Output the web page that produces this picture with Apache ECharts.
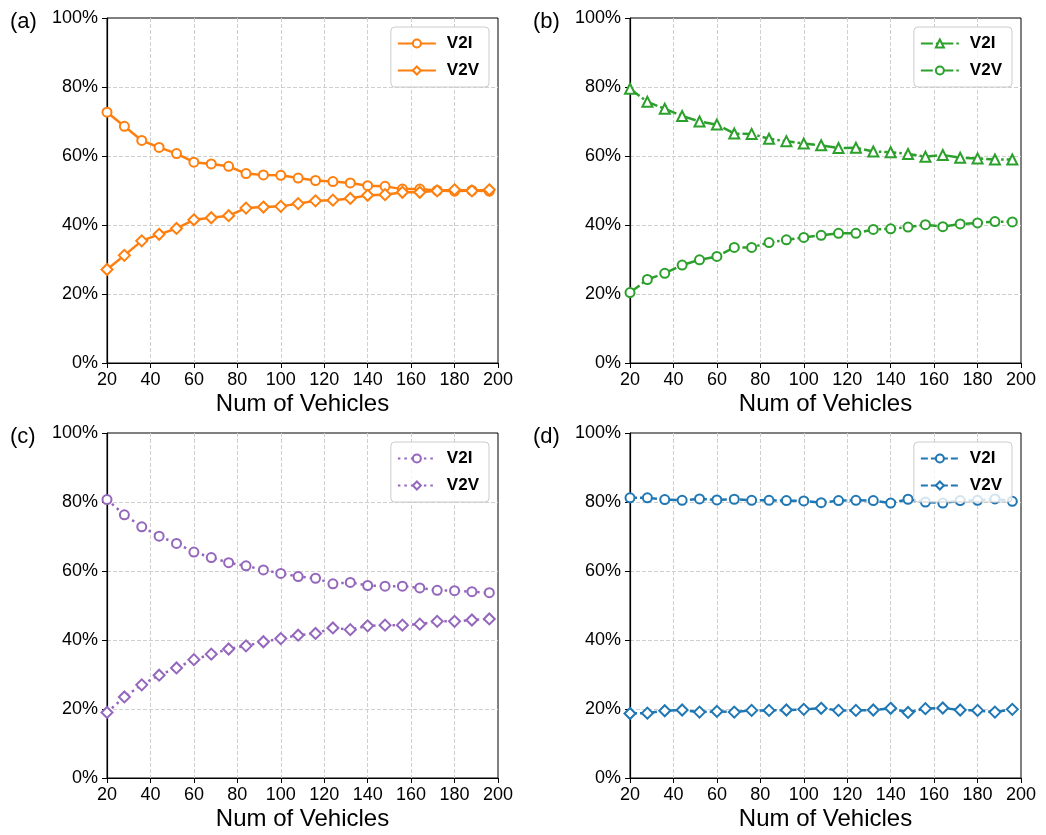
<!DOCTYPE html>
<html>
<head>
<meta charset="utf-8">
<script src="https://cdn.jsdelivr.net/npm/echarts@6/dist/echarts.min.js"></script>
<style>
  html, body { margin: 0; padding: 0; background: #fff; }
  #chart { width: 1046px; height: 835px; }
</style>
</head>
<body>
<div id="chart"></div>
<script>
const vehicles = [20, 28, 36, 44, 52, 60, 68, 76, 84, 92, 100, 108, 116, 124, 132, 140, 148, 156, 164, 172, 180, 188, 196];
const xTicks = [20, 40, 60, 80, 100, 120, 140, 160, 180, 200];
const yTicks = [0, 20, 40, 60, 80, 100];
const panelLabels = ['(a)', '(b)', '(c)', '(d)'];
const seriesNames = ['V2I', 'V2V'];

// (a)
const aV2I = [72.7, 68.6, 64.5, 62.5, 60.7, 58.2, 57.7, 57.0, 54.9, 54.5, 54.4, 53.6, 52.9, 52.6, 52.2, 51.4, 51.2, 50.4, 50.4, 50.0, 49.8, 50.0, 49.8];
const aV2V = [27.1, 31.2, 35.4, 37.3, 39.0, 41.5, 42.1, 42.7, 44.9, 45.2, 45.4, 46.2, 47.0, 47.2, 47.7, 48.6, 48.8, 49.5, 49.5, 49.9, 50.2, 49.9, 50.2];
// (b)
const bV2I = [79.5, 75.7, 73.7, 71.6, 70.0, 69.1, 66.5, 66.4, 65.0, 64.3, 63.6, 63.1, 62.3, 62.4, 61.3, 61.1, 60.6, 59.8, 60.3, 59.5, 59.3, 59.0, 59.0];
const bV2V = [20.4, 24.2, 26.0, 28.4, 29.9, 30.9, 33.5, 33.5, 34.9, 35.7, 36.4, 37.0, 37.6, 37.6, 38.7, 38.9, 39.4, 40.1, 39.5, 40.3, 40.6, 41.0, 40.9];
// (c)
const cV2I = [80.7, 76.3, 72.8, 70.1, 68.0, 65.5, 63.9, 62.4, 61.5, 60.3, 59.3, 58.4, 57.9, 56.3, 56.7, 55.8, 55.6, 55.6, 55.1, 54.4, 54.3, 54.0, 53.7];
const cV2V = [19.0, 23.5, 27.0, 29.8, 31.9, 34.3, 35.9, 37.4, 38.3, 39.5, 40.4, 41.4, 41.9, 43.5, 43.0, 44.1, 44.3, 44.3, 44.6, 45.4, 45.4, 45.8, 46.1];
// (d)
const dV2I = [81.2, 81.2, 80.7, 80.5, 80.9, 80.6, 80.8, 80.5, 80.5, 80.4, 80.3, 79.8, 80.4, 80.5, 80.4, 79.7, 80.8, 80.0, 79.7, 80.4, 80.5, 80.9, 80.2];
const dV2V = [18.7, 18.8, 19.5, 19.7, 19.1, 19.3, 19.1, 19.6, 19.6, 19.7, 19.9, 20.2, 19.6, 19.6, 19.7, 20.2, 19.0, 20.1, 20.3, 19.7, 19.6, 19.1, 19.9];

const panelData = [[aV2I, aV2V], [bV2I, bV2V], [cV2I, cV2V], [dV2I, dV2V]];

// panel styling
const panels = [
  { left: 107, top: 18, color: '#ff7f0e', dash: 'solid', symbols: ['circle', 'diamond'] },
  { left: 630, top: 18, color: '#2ca02c', dash: [12, 3, 2.5, 3], symbols: ['triangle', 'circle'] },
  { left: 107, top: 433, color: '#9467bd', dash: [2.5, 4], symbols: ['circle', 'diamond'] },
  { left: 630, top: 433, color: '#1f77b4', dash: [7, 3], symbols: ['circle', 'diamond'] },
];
const gridW = 391, gridH = 345;
const font = 'Liberation Sans, Arial, Helvetica, sans-serif';
const symSize = { circle: 9, diamond: 11, triangle: 10 };

const grid = [], xAxis = [], yAxis = [], series = [], legend = [], graphic = [];

panels.forEach((p, i) => {
  grid.push({
    left: p.left, top: p.top, width: gridW, height: gridH,
    show: true, borderColor: '#000', borderWidth: 1, backgroundColor: 'transparent',
  });
  xAxis.push({
    gridIndex: i, type: 'value', min: xTicks[0], max: xTicks[xTicks.length - 1], interval: 20,
    name: 'Num of Vehicles', nameLocation: 'middle', nameGap: 29,
    nameTextStyle: { fontFamily: font, fontSize: 24, color: '#000' },
    axisLine: { lineStyle: { color: '#000', width: 1.2 } },
    axisTick: { show: true, inside: false, length: 5, lineStyle: { color: '#000' } },
    axisLabel: { fontFamily: font, fontSize: 18, color: '#000', margin: 8 },
    splitLine: { show: true, showMinLine: false, showMaxLine: false, lineStyle: { color: '#cfcfcf', type: [4, 2], width: 1 } },
  });
  yAxis.push({
    gridIndex: i, type: 'value', min: yTicks[0], max: yTicks[yTicks.length - 1], interval: 20,
    axisLine: { show: true, lineStyle: { color: '#000', width: 1.2 } },
    axisTick: { show: true, inside: false, length: 5, lineStyle: { color: '#000' } },
    axisLabel: { fontFamily: font, fontSize: 18, color: '#000', margin: 9, formatter: '{value}%' },
    splitLine: { show: true, showMinLine: false, showMaxLine: false, lineStyle: { color: '#cfcfcf', type: [4, 2], width: 1 } },
  });
  const names = [];
  panelData[i].forEach((vals, k) => {
    const nm = panelLabels[i] + ' ' + seriesNames[k];
    names.push(nm);
    const sym = p.symbols[k];
    series.push({
      name: nm, type: 'line', xAxisIndex: i, yAxisIndex: i,
      data: vehicles.map((v, j) => [v, vals[j]]),
      symbol: sym,
      symbolSize: symSize[sym],
      showAllSymbol: true,
      itemStyle: { color: '#fff', borderColor: p.color, borderWidth: 2 },
      lineStyle: { color: p.color, width: 2.5, type: p.dash },
      emphasis: { disabled: true },
      animation: false,
    });
  });
  legend.push({
    data: names,
    orient: 'vertical',
    right: 1046 - (p.left + gridW - 9),
    top: p.top + 9,
    itemWidth: 38, itemHeight: 10, itemGap: 10,
    padding: [8, 10, 8, 6],
    borderColor: '#ccc', borderWidth: 1, borderRadius: 4,
    backgroundColor: 'rgba(255,255,255,0.8)',
    formatter: n => n.split(' ')[1],
    textStyle: { fontFamily: font, fontSize: 17, fontWeight: 'bold', color: '#000', padding: [0, 0, 0, 6] },
    selectedMode: false,
  });
  graphic.push({
    type: 'text',
    left: p.left === 107 ? 10 : 533,
    top: p.top - 7,
    style: { text: panelLabels[i], font: '22px ' + font, fill: '#000' },
  });
});

const chart = echarts.init(document.getElementById('chart'), null, { renderer: 'canvas' });
chart.setOption({
  backgroundColor: '#fff',
  animation: false,
  grid, xAxis, yAxis, series, legend, graphic,
});
</script>
</body>
</html>
